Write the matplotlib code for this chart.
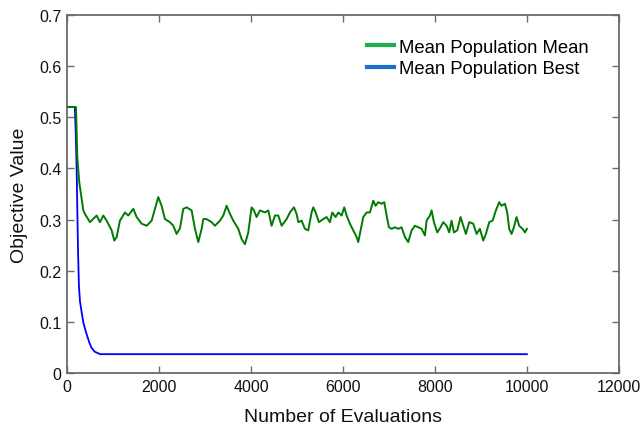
import matplotlib
matplotlib.use("Agg")
import matplotlib.pyplot as plt
from matplotlib.lines import Line2D

# Mean Population Mean (green)
mean_x = [0, 196, 224, 267, 355, 391, 500, 645, 717, 790, 862, 971, 1029, 1080, 1152,
          1261, 1333, 1442, 1514, 1623, 1732, 1841, 1913, 1985, 2058, 2130, 2239, 2312,
          2384, 2457, 2529, 2601, 2710, 2783, 2855, 2928, 2964, 3036, 3145, 3217, 3326,
          3399, 3471, 3529, 3616, 3725, 3797, 3870, 3942, 4014, 4065, 4123, 4196, 4304,
          4377, 4449, 4522, 4594, 4667, 4775, 4848, 4935, 4993, 5029, 5101, 5174, 5246,
          5319, 5355, 5406, 5478, 5572, 5645, 5717, 5768, 5841, 5899, 5971, 6029, 6080,
          6152, 6225, 6297, 6333, 6391, 6442, 6515, 6587, 6659, 6710, 6768, 6841, 6899,
          6950, 7000, 7058, 7130, 7203, 7275, 7348, 7420, 7493, 7565, 7638, 7710, 7783,
          7819, 7891, 7928, 7978, 8051, 8123, 8181, 8254, 8311, 8362, 8413, 8486, 8558,
          8616, 8674, 8746, 8833, 8906, 8978, 9051, 9109, 9181, 9254, 9326, 9398, 9449,
          9522, 9572, 9616, 9667, 9717, 9775, 9833, 9906, 9957, 10000]
mean_y = [0.520, 0.520, 0.422, 0.373, 0.318, 0.311, 0.295, 0.308, 0.295, 0.308, 0.298,
          0.279, 0.259, 0.266, 0.298, 0.314, 0.308, 0.321, 0.305, 0.292, 0.288, 0.298,
          0.321, 0.344, 0.327, 0.301, 0.295, 0.288, 0.272, 0.283, 0.321, 0.324, 0.318,
          0.282, 0.256, 0.282, 0.301, 0.301, 0.295, 0.288, 0.298, 0.308, 0.327, 0.314,
          0.298, 0.282, 0.262, 0.252, 0.275, 0.324, 0.318, 0.305, 0.318, 0.314, 0.318,
          0.288, 0.308, 0.308, 0.288, 0.301, 0.314, 0.324, 0.311, 0.295, 0.298, 0.282,
          0.279, 0.314, 0.324, 0.314, 0.295, 0.301, 0.305, 0.295, 0.314, 0.305, 0.314,
          0.308, 0.324, 0.308, 0.292, 0.279, 0.266, 0.256, 0.282, 0.305, 0.314, 0.314,
          0.337, 0.327, 0.334, 0.331, 0.334, 0.308, 0.285, 0.282, 0.285, 0.282, 0.285,
          0.266, 0.256, 0.279, 0.288, 0.285, 0.282, 0.269, 0.298, 0.308, 0.318, 0.295,
          0.275, 0.285, 0.295, 0.288, 0.275, 0.298, 0.275, 0.279, 0.305, 0.288, 0.272,
          0.295, 0.292, 0.272, 0.282, 0.259, 0.272, 0.295, 0.298, 0.318, 0.334, 0.327,
          0.331, 0.314, 0.282, 0.272, 0.285, 0.305, 0.288, 0.282, 0.275, 0.282]

# Mean Population Best (blue)
best_x = [0, 170, 190, 210, 225, 240, 260, 283, 319, 355, 413, 485, 530, 600, 720, 10000]
best_y = [0.520, 0.520, 0.470, 0.400, 0.320, 0.240, 0.170, 0.140, 0.119, 0.099, 0.080,
          0.060, 0.050, 0.042, 0.037, 0.037]

xticks = [0, 2000, 4000, 6000, 8000, 10000, 12000]
yticks = [0, 0.1, 0.2, 0.3, 0.4, 0.5, 0.6, 0.7]
series_names = ['Mean Population Mean', 'Mean Population Best']

plt.rcParams['font.family'] = ['Liberation Sans', 'DejaVu Sans']

fig = plt.figure(figsize=(6.44, 4.31), dpi=100)
ax = fig.add_axes([0.104, 0.132, 0.857, 0.831])

ax.plot(best_x, best_y, color='#0000ff', lw=1.3, zorder=2)
ax.plot(mean_x, mean_y, color='#007a00', lw=1.4, zorder=3)

ax.set_xlim(0, 12000)
ax.set_ylim(0, 0.7)
ax.set_xticks(xticks)
ax.set_yticks(yticks)
ax.set_xticklabels([str(t) for t in xticks])
ax.set_yticklabels(['0' if t == 0 else f'{t:.1f}' for t in yticks])

for s in ax.spines.values():
    s.set_color('#6b6b6b')
    s.set_linewidth(1.3)
ax.tick_params(direction='in', length=5, width=1, color='#6b6b6b',
               top=True, right=True, labelsize=11.5, labelcolor='#111111', pad=4)

ax.set_xlabel('Number of Evaluations', fontsize=14, color='#111111', labelpad=10)
ax.set_ylabel('Objective Value', fontsize=14, color='#111111', labelpad=8)

handles = [Line2D([], [], color='#1db04a', lw=3),
           Line2D([], [], color='#1a6fcc', lw=3)]
ax.legend(handles, series_names,
          loc='upper left', bbox_to_anchor=(0.543, 0.933), frameon=False,
          fontsize=13.3, handlelength=1.5, handletextpad=0.25, labelspacing=0.22,
          borderaxespad=0.0, borderpad=0.0)

fig.savefig('out.png', dpi=100)
